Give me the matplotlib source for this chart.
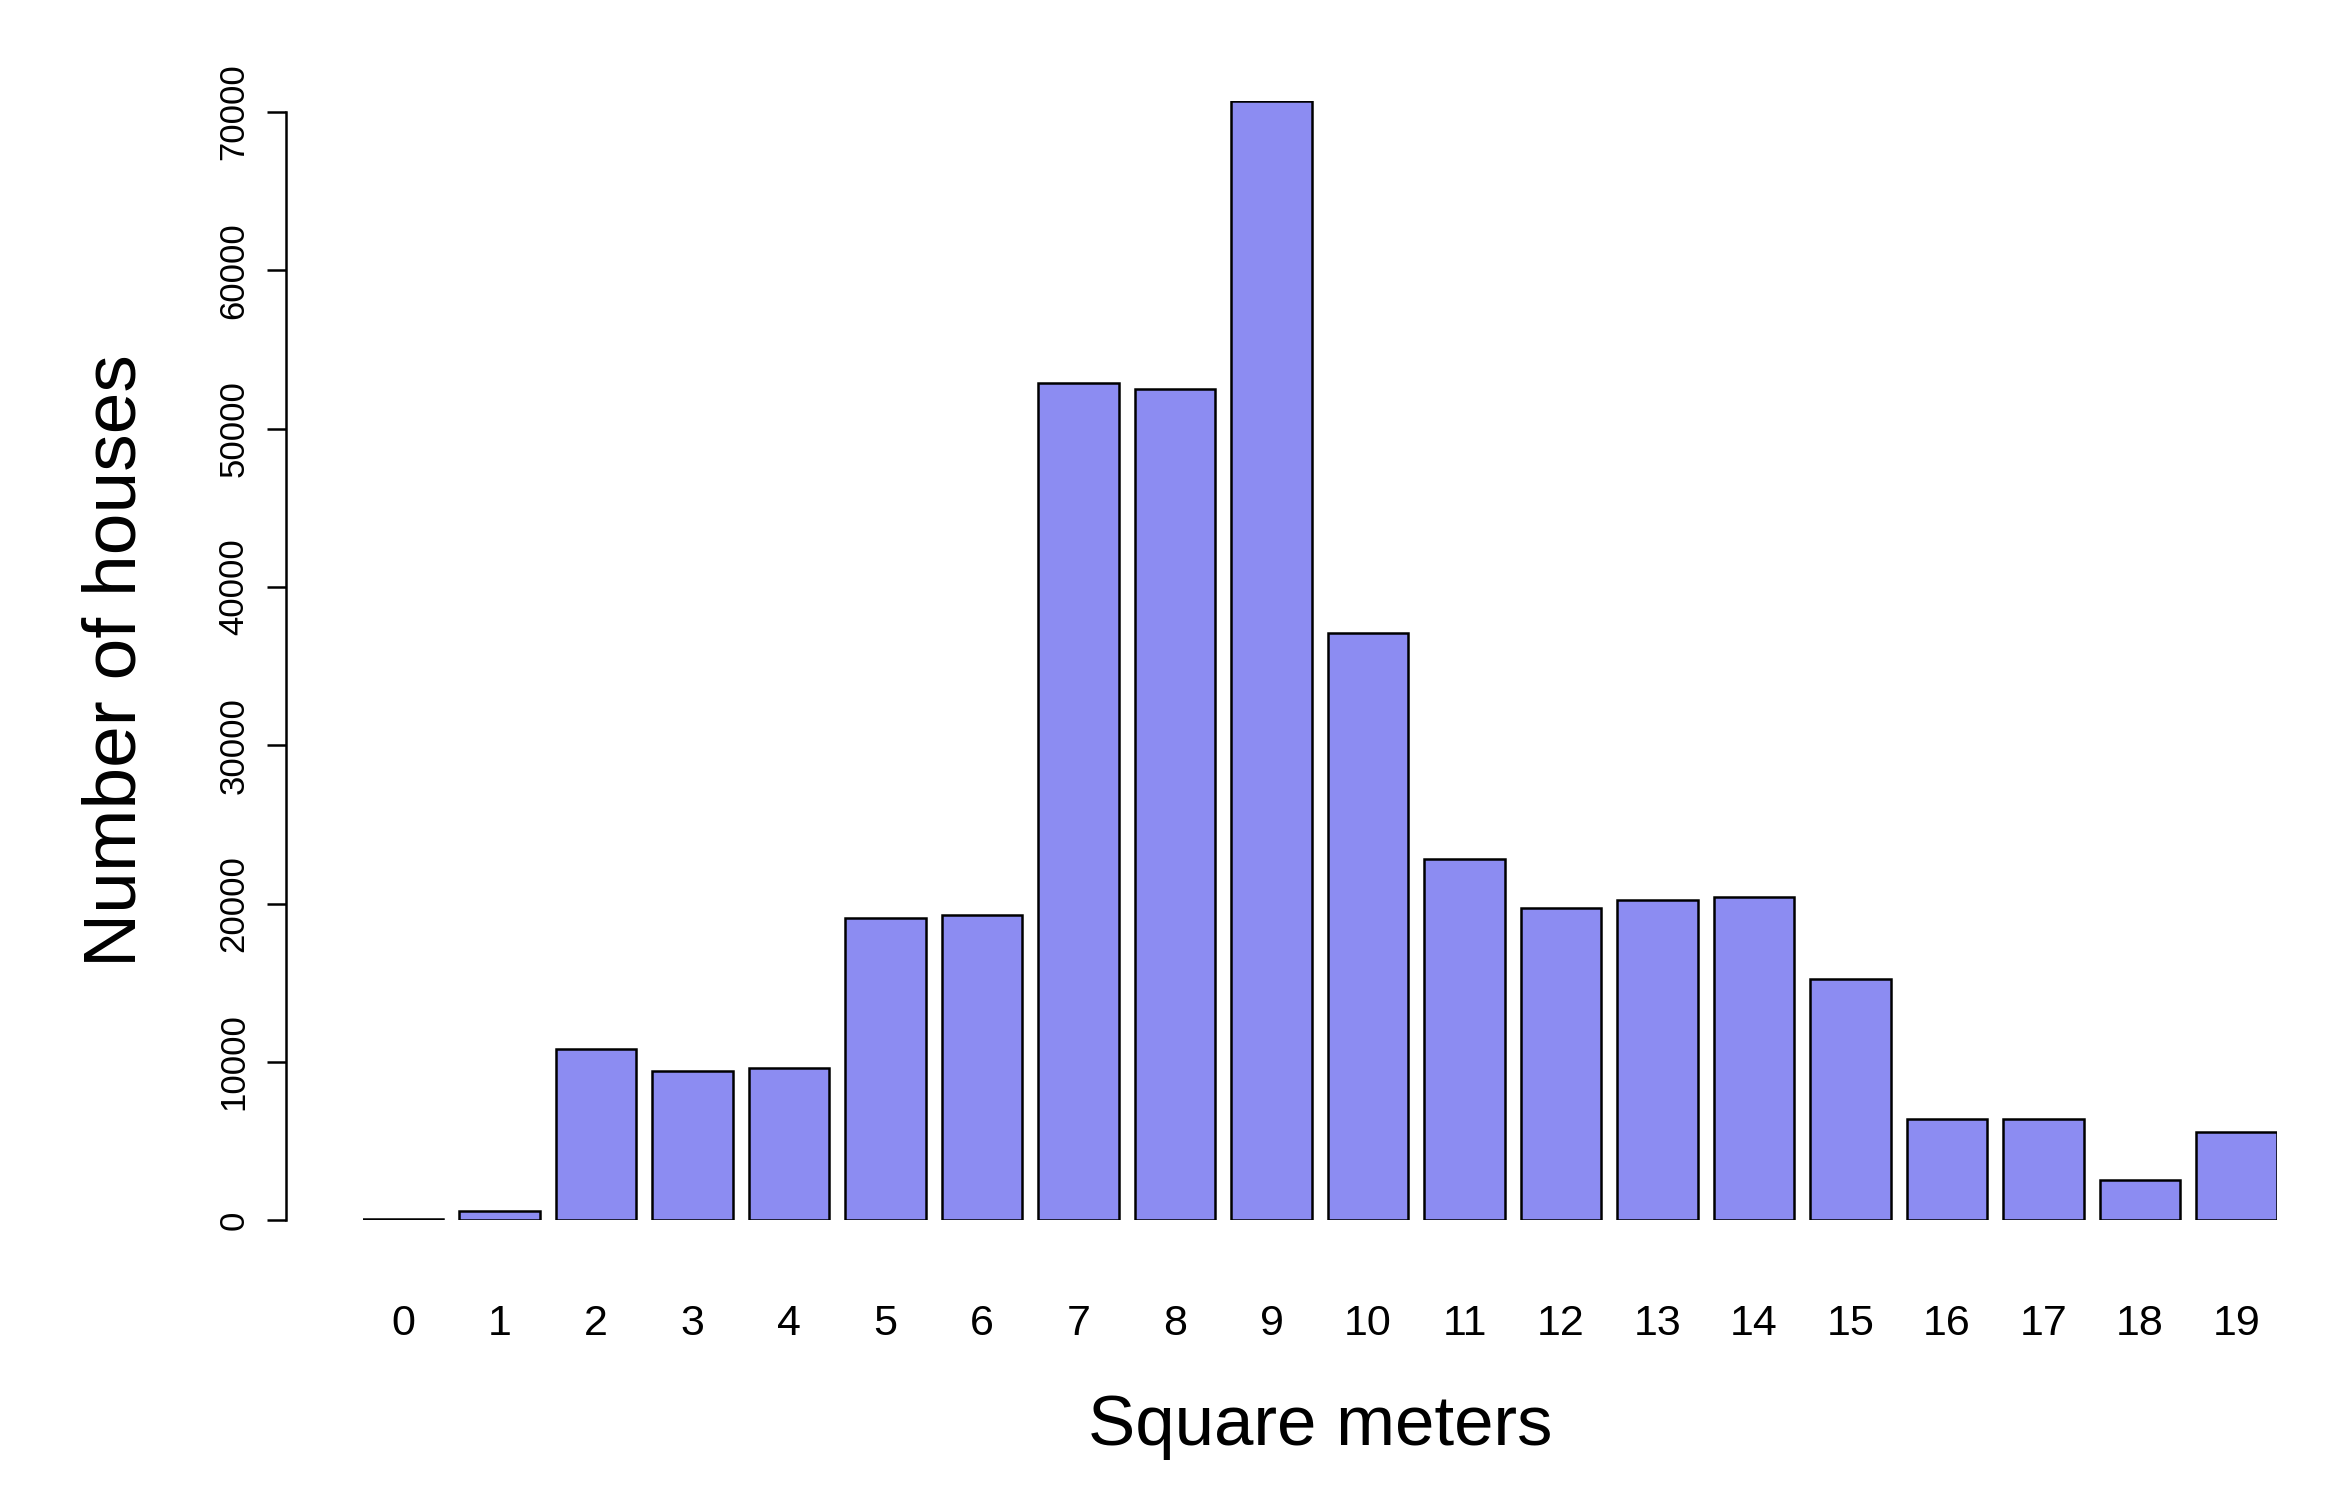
import matplotlib.pyplot as plt
import numpy as np

plt.rcParams['font.family'] = ['Liberation Sans', 'DejaVu Sans']

categories = [str(i) for i in range(20)]
houses = [100, 570, 10800, 9450, 9650, 19100, 19300, 52900, 52500, 70700,
          37100, 22800, 19700, 20250, 20450, 15250, 6430, 6430, 2550, 5580]
yticks = [0, 10000, 20000, 30000, 40000, 50000, 60000, 70000]

fig = plt.figure(figsize=(23.4, 15.03), dpi=100)
ax = fig.add_axes([0.155, 0.188, 0.818, 0.745])

x = 0.7 + 1.2 * np.arange(len(houses))
ax.bar(x, houses, width=1.0, color='#8c8cf2', edgecolor='black', linewidth=1.8)
ax.set_xlim(x[0] - 0.5, x[-1] + 0.5)
ax.set_ylim(0, 70700)

for s in ['top', 'right', 'bottom']:
    ax.spines[s].set_visible(False)
ax.spines['left'].set_position(('outward', 55))
ax.spines['left'].set_bounds(0, 70000)
ax.spines['left'].set_linewidth(1.8)

ax.set_yticks(yticks)
ax.set_yticklabels([str(v) for v in yticks], rotation=90, va='center', fontsize=25)
ax.tick_params(axis='y', length=14, width=1.8, pad=12)
ax.set_xticks(x)
ax.set_xticklabels(categories, fontsize=31)
ax.tick_params(axis='x', length=0, pad=60)

ax.set_xlabel('Square meters', fontsize=51, labelpad=36)
ax.set_ylabel('Number of houses', fontsize=54, labelpad=48)

fig.savefig('out.png', dpi=100)
